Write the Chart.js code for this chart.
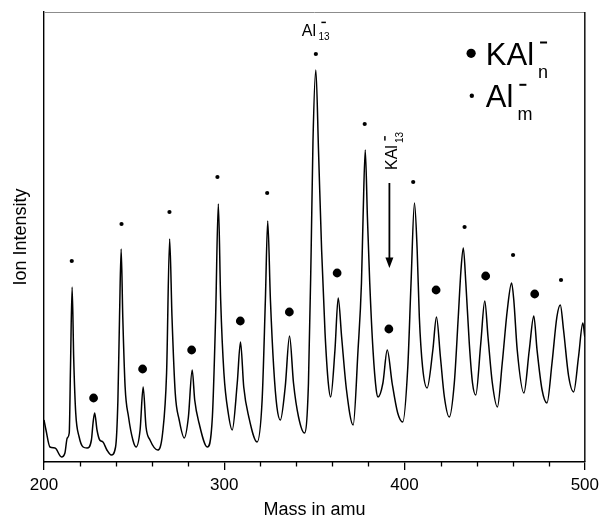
<!DOCTYPE html>
<html><head><meta charset="utf-8">
<script src="https://cdn.jsdelivr.net/npm/chart.js@4.4.1/dist/chart.umd.min.js"></script>
<style>html,body{margin:0;padding:0;background:#fff;}#wrap{width:604px;height:519px;}</style>
</head><body><div id="wrap"><canvas id="c" width="604" height="519"></canvas></div>
<script>
// ---- data ----
const massAmu = [200, 201.1, 203.3, 206.1, 209.7, 211.6, 212.9, 214, 214.7, 215.6,
  216.5, 217.6, 219.5, 221.7, 223.9, 226.3, 227.2, 228.1, 229.4, 230.9,
  232.7, 234.9, 237.3, 239.7, 241, 241.9, 242.8, 243.7, 245, 246.9,
  249.3, 251.1, 253.3, 255, 256.6, 258.8, 263.1, 265.8, 268, 269.7,
  271, 272.8, 275, 277.8, 280.1, 282.2, 283.6, 286, 290.6, 293.4,
  295.2, 296.7, 298, 299.8, 302.2, 304.4, 307.2, 309, 310.8, 313.6,
  318.2, 321, 322.8, 324.1, 325.6, 327.4, 329.2, 331.1, 333.8, 336.2,
  338.4, 341.2, 344.5, 346.7, 348.2, 349.2, 350.8, 352.3, 354, 355.9,
  357.7, 359, 361.4, 363.2, 365.1, 367.8, 371.5, 374.2, 376.1, 377,
  378.2, 379.4, 380.7, 382.5, 384.3, 385.3, 388, 390.4, 393.1, 396.2,
  399, 401.8, 403.6, 405.5, 407, 408.2, 410, 412.5, 415.7, 417.7,
  419.9, 422.1, 424.8, 427.6, 429.8, 431.3, 432.6, 434, 435.9, 437.7,
  439.5, 442.3, 444.5, 446.3, 448.7, 451.5, 454.2, 457, 459.4, 460.6,
  462.5, 466.2, 469.2, 471.7, 473.5, 476.3, 479, 481.8, 484.5, 486.4,
  488.2, 491, 493.8, 496.5, 498.9, 500];
const ionIntensity = [42, 32, 15, 14, 5, 9, 24, 29, 95, 175,
  102, 49, 25, 15, 14, 22, 39, 49, 32, 22,
  20, 12, 7, 15, 62, 145, 213, 145, 75, 45,
  22, 15, 32, 75, 35, 22, 12, 29, 89, 223,
  145, 69, 42, 24, 45, 92, 62, 39, 15, 45,
  145, 258, 162, 89, 49, 32, 79, 120, 75, 45,
  20, 62, 162, 241, 162, 95, 55, 42, 75, 126,
  79, 45, 29, 79, 212, 320, 392, 310, 212, 129,
  79, 65, 112, 164, 125, 72, 37, 112, 179, 245,
  312, 245, 179, 112, 72, 65, 79, 112, 79, 49,
  40, 95, 179, 259, 212, 145, 95, 74, 112, 145,
  105, 65, 45, 79, 145, 192, 214, 179, 119, 79,
  67, 119, 161, 125, 79, 55, 99, 152, 179, 162,
  112, 69, 112, 146, 112, 72, 59, 99, 145, 157,
  132, 86, 70, 105, 139, 125];

// Al_m^- markers (small dots) and KAl_n^- markers (large dots)
const alMarkMass = [215.4, 243, 269.6, 296.2, 323.8, 350.8, 377.9, 404.8, 433.3, 460.2, 486.8];
const alMarkIntensity = [201, 238, 250, 285, 269, 408, 338, 280, 235, 207, 182];
const kalMarkMass = [227.5, 254.7, 281.9, 308.9, 336.1, 362.6, 391.3, 417.5, 445, 472.2];
const kalMarkIntensity = [64, 93, 112, 141, 150, 189, 133, 172, 186, 168];

const xTickValues = [200, 300, 400, 500];
const xMinorStep = 20;
const xTitle = 'Mass in amu';
const yTitle = 'Ion Intensity';
const al13Anchor = {x: 350.8, y: 408};     // labelled Al13- peak marker
const kal13Arrow = {x: 391.6, yTop: 279, yTip: 194};

const FONT = '"Liberation Sans", Arial, Helvetica, sans-serif';
const pts = (xs, ys) => xs.map((x, i) => ({x: x, y: ys[i]}));

function ionText(ctx, x, y, base, sub, o) {
  ctx.textAlign = 'left';
  ctx.textBaseline = 'alphabetic';
  ctx.font = o.base + 'px ' + FONT;
  ctx.fillText(base, x, y);
  const w = ctx.measureText(base).width;
  const sx = x + w + o.gap;
  ctx.font = o.sub + 'px ' + FONT;
  ctx.fillText(sub, sx, y + o.subDy);
  ctx.fillRect(sx + o.dashDx, y - o.dashUp - o.dashT / 2, o.dashLen, o.dashT);
}

const annot = {
  id: 'annot',
  afterDraw(chart) {
    const ctx = chart.ctx, a = chart.chartArea, xs = chart.scales.x, ys = chart.scales.y;
    ctx.save();
    // frame: top (grey) and right
    ctx.strokeStyle = '#8c8c8c'; ctx.lineWidth = 1;
    ctx.beginPath(); ctx.moveTo(a.left, a.top + 0.5); ctx.lineTo(a.right, a.top + 0.5); ctx.stroke();
    ctx.strokeStyle = '#000'; ctx.lineWidth = 1.4;
    ctx.beginPath(); ctx.moveTo(a.right, a.top); ctx.lineTo(a.right, a.bottom); ctx.stroke();
    // minor ticks
    ctx.lineWidth = 1.3;
    for (let v = xs.min + xMinorStep; v < xs.max; v += xMinorStep) {
      if (xTickValues.includes(v)) continue;
      const px = Math.round(xs.getPixelForValue(v)) + 0.5;
      ctx.beginPath(); ctx.moveTo(px, a.bottom); ctx.lineTo(px, a.bottom + 4.5); ctx.stroke();
    }
    ctx.fillStyle = '#000';
    // Al13- label
    const ax = xs.getPixelForValue(al13Anchor.x), ay = ys.getPixelForValue(al13Anchor.y);
    ionText(ctx, ax - 14, ay - 18.3, 'Al', '13',
      {base: 16, sub: 10, gap: 2.3, subDy: 4.5, dashDx: 3, dashLen: 4.5, dashUp: 13.3, dashT: 1.5});
    // KAl13- arrow
    const rx = xs.getPixelForValue(kal13Arrow.x);
    const rTop = ys.getPixelForValue(kal13Arrow.yTop), rTip = ys.getPixelForValue(kal13Arrow.yTip);
    ctx.strokeStyle = '#000'; ctx.lineWidth = 1.8;
    ctx.beginPath(); ctx.moveTo(rx, rTop); ctx.lineTo(rx, rTip - 9); ctx.stroke();
    ctx.beginPath(); ctx.moveTo(rx - 4, rTip - 10.5); ctx.lineTo(rx + 4, rTip - 10.5); ctx.lineTo(rx, rTip); ctx.closePath(); ctx.fill();
    // rotated KAl13- label
    ctx.save();
    ctx.translate(rx + 8, rTop - 13);
    ctx.rotate(-Math.PI / 2);
    ionText(ctx, 0, 0, 'KAl', '13',
      {base: 16, sub: 10, gap: 2, subDy: 6, dashDx: 2.5, dashLen: 4.5, dashUp: 12.5, dashT: 1.5});
    ctx.restore();
    // legend
    const lx = a.right - 113.7;
    ctx.beginPath(); ctx.arc(lx, a.top + 41.3, 4.6, 0, Math.PI * 2); ctx.fill();
    ctx.beginPath(); ctx.arc(lx + 0.7, a.top + 83.7, 2.2, 0, Math.PI * 2); ctx.fill();
    const lopt = {base: 31, sub: 18, gap: 4, subDy: 13, dashDx: 2, dashLen: 7, dashUp: 22.5, dashT: 2};
    ionText(ctx, a.right - 99, a.top + 53, 'KAl', 'n', lopt);
    ionText(ctx, a.right - 99, a.top + 95.3, 'Al', 'm', lopt);
    ctx.restore();
  }
};

new Chart(document.getElementById('c'), {
  type: 'line',
  data: {
    datasets: [
      {data: pts(massAmu, ionIntensity), borderColor: '#000', borderWidth: 1.5, pointRadius: 0,
       cubicInterpolationMode: 'monotone', fill: false},
      {data: pts(alMarkMass, alMarkIntensity), showLine: false, pointRadius: 2.1, pointBackgroundColor: '#000', pointBorderWidth: 0},
      {data: pts(kalMarkMass, kalMarkIntensity), showLine: false, pointRadius: 4.4, pointBackgroundColor: '#000', pointBorderWidth: 0}
    ]
  },
  options: {
    responsive: false,
    animation: false,
    devicePixelRatio: 1,
    layout: {padding: {top: 12, right: 16, left: 0, bottom: 0}},
    plugins: {legend: {display: false}, tooltip: {enabled: false}},
    scales: {
      x: {
        type: 'linear', min: 200, max: 500,
        afterBuildTicks: s => { s.ticks = xTickValues.map(v => ({value: v})); },
        afterFit: s => { s.height = 57; },
        grid: {drawOnChartArea: false, drawTicks: true, tickLength: 8, color: '#000', lineWidth: 1.3},
        border: {display: true, color: '#000', width: 1.4},
        ticks: {color: '#000', font: {family: FONT, size: 17}, padding: 5, autoSkip: false, maxRotation: 0},
        title: {display: true, text: xTitle, color: '#000', font: {family: FONT, size: 18, lineHeight: 1}, padding: {top: 0, bottom: 0}}
      },
      y: {
        type: 'linear', min: 0, max: 450,
        afterFit: s => { s.width = 44; },
        grid: {display: false},
        border: {display: true, color: '#000', width: 1.4},
        ticks: {display: false},
        title: {display: true, text: yTitle, color: '#000', font: {family: FONT, size: 18, lineHeight: 1}, padding: {top: 12, bottom: 0}}
      }
    }
  },
  plugins: [annot]
});
</script></body></html>
